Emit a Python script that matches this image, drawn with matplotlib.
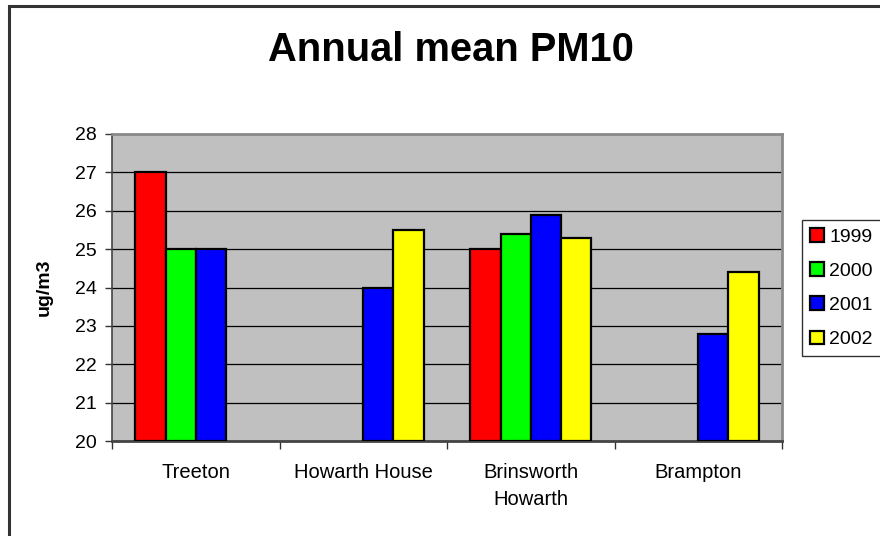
import numpy as np
import matplotlib.pyplot as plt
from matplotlib.patches import Rectangle

plt.rcParams['font.family'] = ['Liberation Sans', 'DejaVu Sans']

sites = ["Treeton", "Howarth House", "Brinsworth\nHowarth", "Brampton"]
years = ["1999", "2000", "2001", "2002"]
pm_1999 = [27.0, np.nan, 25.0, np.nan]
pm_2000 = [25.0, np.nan, 25.4, np.nan]
pm_2001 = [25.0, 24.0, 25.9, 22.8]
pm_2002 = [np.nan, 25.5, 25.3, 24.4]
colors = ["#ff0000", "#00ff00", "#0000ff", "#ffff00"]

fig = plt.figure(figsize=(8.8, 5.36), dpi=100)
ax = fig.add_axes([112/880, 1 - 441/536, 670/880, 307/536])
ax.set_facecolor("#c0c0c0")

# outer chart border
fig.patches.append(Rectangle((9/880, -0.1), 1.2, 1 - 6/536 + 0.1, transform=fig.transFigure,
                             fill=False, edgecolor="#333333", linewidth=2.2, zorder=0))

x = np.arange(len(sites))
bw = 0.18
series = [pm_1999, pm_2000, pm_2001, pm_2002]
for i, (vals, col, yr) in enumerate(zip(series, colors, years)):
    v = np.array(vals)
    ax.bar(x + (i - 1.5) * bw, v - 20, bottom=20, width=bw, color=col,
           edgecolor="black", linewidth=1.6, label=yr, zorder=3)

ax.set_xlim(-0.5, 3.5)
ax.set_ylim(20, 28)
ax.set_yticks(range(20, 29))
ax.yaxis.grid(True, color="black", linewidth=0.9, zorder=1)
ax.set_axisbelow(True)

ax.set_xticks(x)
ax.set_xticklabels(sites, fontsize=14.5, linespacing=1.55)
ax.tick_params(axis='x', which='major', length=0, pad=16)
ax.set_xticks(np.arange(-0.5, 4, 1), minor=True)
ax.tick_params(axis='x', which='minor', length=6, width=1, color="#333333")
ax.tick_params(axis='y', labelsize=14, length=5, width=1, color="#333333", pad=6)

for s in ["top", "right"]:
    ax.spines[s].set_color("#8a8a8a")
    ax.spines[s].set_linewidth(2)
ax.spines["left"].set_color("#444444")
ax.spines["bottom"].set_color("#444444")
ax.spines["left"].set_linewidth(1.2)
ax.spines["bottom"].set_linewidth(2)

ax.set_ylabel("ug/m3", fontsize=14, fontweight="bold", labelpad=16)
fig.text(451/880, 1 - 50/536, "Annual mean PM10", ha="center", va="center",
         fontsize=28.7, fontweight="bold")

leg = fig.legend(loc="upper left", bbox_to_anchor=(802/880, 1 - 220/536),
                 fontsize=14, frameon=True, fancybox=False, borderpad=0.4,
                 handlelength=0.72, handleheight=0.72, handletextpad=0.28,
                 labelspacing=0.85, borderaxespad=0)
leg.get_frame().set_edgecolor("black")
leg.get_frame().set_linewidth(1)
for h in leg.legend_handles:
    h.set_linewidth(1.6)

fig.savefig("out.png", dpi=100)
